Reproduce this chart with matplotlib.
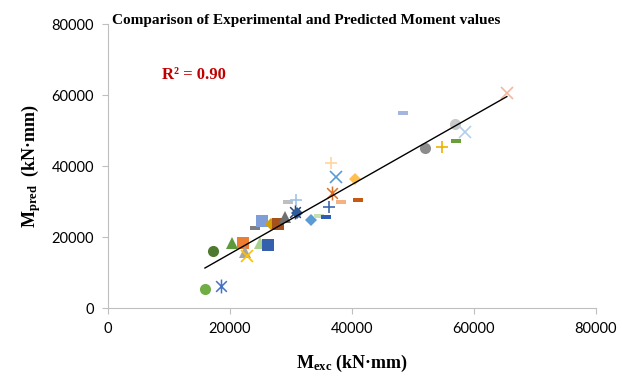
import matplotlib.pyplot as plt
import numpy as np
from matplotlib.path import Path

plt.rcParams['mathtext.fontset'] = 'custom'
plt.rcParams['mathtext.rm'] = 'Liberation Serif'
plt.rcParams['mathtext.bf'] = 'Liberation Serif:bold'

# experimental vs predicted moment (kN.mm), one specimen per entry
m_exc = [15900, 18500, 17200, 20300, 22100, 22500, 22800, 24900, 26200, 24100,
         25200, 26700, 27900, 29000, 29500, 30800, 30700, 31000, 33300, 34600,
         35700, 36200, 36700, 38200, 37400, 36600, 40500, 41000, 48400, 52000,
         54800, 57000, 56900, 58500, 65400]
m_pred = [5350, 6200, 16000, 18300, 18300, 15800, 14600, 18300, 17700, 22500,
          24500, 23700, 23700, 25600, 29800, 30400, 27000, 26800, 24800, 25900,
          25600, 28400, 32400, 29800, 36900, 40800, 36300, 30400, 54900, 45100,
          45400, 47000, 51800, 49600, 60600]
r2_text = "R² = 0.90"

# marker style per specimen (Excel-like series markers)
dash = [(-1, -0.35), (1, -0.35), (1, 0.35), (-1, 0.35), (-1, -0.35)]
star = Path([(-1, -1), (1, 1), (-1, 1), (1, -1), (0, -1.3), (0, 1.3)],
            [Path.MOVETO, Path.LINETO, Path.MOVETO, Path.LINETO, Path.MOVETO, Path.LINETO])
markers = ['o', star, 'o', '^', 's', '^', 'x', '^', 's', dash,
           's', 'D', 's', '^', dash, '+', star, 'D', 'D', dash,
           dash, '+', star, dash, 'x', '+', 'D', dash, dash, 'o',
           '+', dash, 'o', 'x', 'x']
colors = ['#70AD47', '#4472C4', '#4E7A2E', '#5E9A3A', '#ED7D31', '#A5A5A5', '#FFC000', '#A9D18E',
          '#3460AC', '#7F7F7F', '#7F9ED8', '#D4A000', '#A5511E', '#707070', '#BFBFBF',
          '#9DC3E6', '#264478', '#2E5C9A', '#5B9BD5', '#C5E0B4', '#2F5CB6', '#3F6AAE',
          '#E07020', '#F4B183', '#5B9BD5', '#FFD5A0', '#FFC04D', '#C55A11', '#A4B5E0',
          '#8C8C8C', '#F0B000', '#6A9E3A', '#C9C9C9', '#B4CDED', '#F4B8A0']

fig = plt.figure(figsize=(6.22, 3.81), dpi=100)
ax = fig.add_axes([0.1736, 0.1916, 0.7844, 0.7454])

for x, y, m, c in zip(m_exc, m_pred, markers, colors):
    if m is star:
        ax.plot(x, y, marker=m, color=c, markersize=10, markeredgewidth=1.1,
                linestyle='none', zorder=3)
    elif m in ('x', '+'):
        ax.plot(x, y, marker=m, color=c, markersize=8, markeredgewidth=1.2,
                linestyle='none', zorder=3)
    elif m is dash:
        ax.plot(x, y, marker=m, color=c, markersize=7, markeredgewidth=0,
                linestyle='none', zorder=3)
    else:
        size = {'o': 8, '^': 9, 's': 8, 'D': 6.5}[m]
        ax.plot(x, y, marker=m, color=c, markersize=size, markeredgewidth=0,
                linestyle='none', zorder=3)

# linear trendline
k, b = np.polyfit(m_exc, m_pred, 1)
xs = np.array([min(m_exc), max(m_exc)])
ax.plot(xs, k * xs + b, color='black', linewidth=1, zorder=4)

ax.set_xlim(0, 80000)
ax.set_ylim(0, 80000)
ax.set_xticks(range(0, 80001, 20000))
ax.set_yticks(range(0, 80001, 20000))
for s in ('top', 'right'):
    ax.spines[s].set_visible(False)
for s in ('left', 'bottom'):
    ax.spines[s].set_color('#BFBFBF')
ax.tick_params(direction='out', length=4, color='#BFBFBF', labelsize=10.5, pad=6)
for lab in ax.get_xticklabels() + ax.get_yticklabels():
    lab.set_fontfamily('Lato')

fig.text(0.492, 0.947, 'Comparison of Experimental and Predicted Moment values',
         ha='center', va='center', fontsize=11, fontweight='bold', family='Liberation Serif')
ax.text(0.11, 0.805, r2_text, transform=ax.transAxes, color='#C00000',
        fontsize=12, fontweight='bold', family='Liberation Serif')
ax.set_xlabel(r'$\mathbf{M_{exc}}$ (kN·mm)', fontsize=13, fontweight='bold',
              family='Liberation Serif', labelpad=12)
ax.set_ylabel(r'$\mathbf{M_{pred}}$  (kN·mm)', fontsize=13, fontweight='bold',
              family='Liberation Serif', labelpad=6)

fig.savefig('out.png', dpi=100)
